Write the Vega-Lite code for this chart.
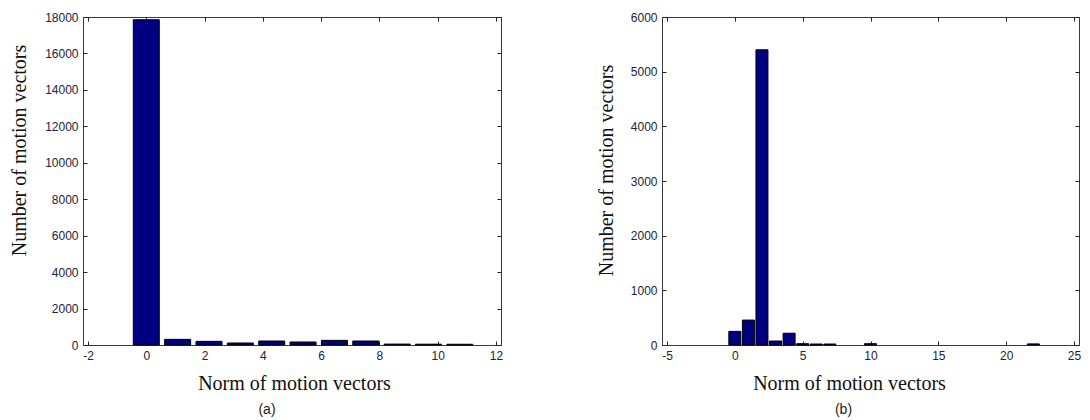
{
  "$schema": "https://vega.github.io/schema/vega-lite/v6.json",
  "background": "white",
  "padding": {"left": 8, "top": 10, "right": 5, "bottom": 5},
  "spacing": 161,
  "bounds": "flush",
  "datasets": {
    "a": [
      {"norm": 0, "count": 17850},
      {"norm": 1.076, "count": 310},
      {"norm": 2.152, "count": 200},
      {"norm": 3.228, "count": 110},
      {"norm": 4.304, "count": 219},
      {"norm": 5.38, "count": 164},
      {"norm": 6.456, "count": 255},
      {"norm": 7.532, "count": 219},
      {"norm": 8.608, "count": 50},
      {"norm": 9.684, "count": 45},
      {"norm": 10.76, "count": 40}
    ],
    "b": [
      {"norm": 0, "count": 249},
      {"norm": 1, "count": 456},
      {"norm": 2, "count": 5400},
      {"norm": 3, "count": 73},
      {"norm": 4, "count": 215},
      {"norm": 5, "count": 24},
      {"norm": 6, "count": 18},
      {"norm": 7, "count": 18},
      {"norm": 10, "count": 24},
      {"norm": 22, "count": 20}
    ]
  },
  "hconcat": [
    {
      "width": 418,
      "height": 328,
      "data": {"name": "a"},
      "title": {"text": "(a)", "orient": "bottom", "anchor": "middle", "frame": "group", "dx": -25, "offset": 10, "font": "Liberation Sans", "fontSize": 14, "fontWeight": "normal", "color": "#222"},
      "layer": [
        {
          "mark": {"type": "bar", "color": "#000080", "stroke": "#000000", "strokeWidth": 1, "size": 26},
          "encoding": {
            "x": {"field": "norm", "type": "quantitative", "scale": {"domain": [-2, 12], "nice": false, "zero": false},
                  "axis": {"orient": "bottom", "values": [-2, 0, 2, 4, 6, 8, 10, 12], "labelExpr": "toString(datum.value)", "title": "Norm of motion vectors", "titleX": 211, "titleY": 38, "titleBaseline": "middle", "titleAlign": "center"}},
            "y": {"field": "count", "type": "quantitative", "scale": {"domain": [0, 18000], "nice": false},
                  "axis": {"orient": "left", "values": [0, 2000, 4000, 6000, 8000, 10000, 12000, 14000, 16000, 18000], "labelExpr": "toString(datum.value)", "title": "Number of motion vectors", "titleX": -64, "titleY": 133, "titleBaseline": "middle", "titleAlign": "center", "titleAngle": -90}}
          }
        },
        {
          "mark": {"type": "bar", "opacity": 0, "size": 26},
          "encoding": {
            "x": {"field": "norm", "type": "quantitative", "axis": {"orient": "top", "values": [-2, 0, 2, 4, 6, 8, 10, 12], "labels": false, "title": null}},
            "y": {"field": "count", "type": "quantitative", "axis": {"orient": "right", "values": [0, 2000, 4000, 6000, 8000, 10000, 12000, 14000, 16000, 18000], "labels": false, "title": null}}
          }
        }
      ],
      "resolve": {"axis": {"x": "independent", "y": "independent"}}
    },
    {
      "width": 417,
      "height": 328,
      "data": {"name": "b"},
      "title": {"text": "(b)", "orient": "bottom", "anchor": "middle", "frame": "group", "dx": -27, "offset": 10, "font": "Liberation Sans", "fontSize": 14, "fontWeight": "normal", "color": "#222"},
      "layer": [
        {
          "mark": {"type": "bar", "color": "#000080", "stroke": "#000000", "strokeWidth": 1, "size": 12},
          "encoding": {
            "x": {"field": "norm", "type": "quantitative", "scale": {"domain": [-5, 25], "nice": false, "zero": false},
                  "axis": {"orient": "bottom", "values": [-5, 0, 5, 10, 15, 20, 25], "labelExpr": "toString(datum.value)", "title": "Norm of motion vectors", "titleX": 187, "titleY": 38, "titleBaseline": "middle", "titleAlign": "center"}},
            "y": {"field": "count", "type": "quantitative", "scale": {"domain": [0, 6000], "nice": false},
                  "axis": {"orient": "left", "values": [0, 1000, 2000, 3000, 4000, 5000, 6000], "labelExpr": "toString(datum.value)", "title": "Number of motion vectors", "titleX": -56, "titleY": 153, "titleBaseline": "middle", "titleAlign": "center", "titleAngle": -90}}
          }
        },
        {
          "mark": {"type": "bar", "opacity": 0, "size": 12},
          "encoding": {
            "x": {"field": "norm", "type": "quantitative", "axis": {"orient": "top", "values": [-5, 0, 5, 10, 15, 20, 25], "labels": false, "title": null}},
            "y": {"field": "count", "type": "quantitative", "axis": {"orient": "right", "values": [0, 1000, 2000, 3000, 4000, 5000, 6000], "labels": false, "title": null}}
          }
        }
      ],
      "resolve": {"axis": {"x": "independent", "y": "independent"}}
    }
  ],
  "config": {
    "view": {"stroke": "#3a3a3a", "strokeWidth": 1},
    "axis": {
      "grid": false,
      "domain": false,
      "ticks": true,
      "tickSize": -4,
      "tickColor": "#222222",
      "tickWidth": 1,
      "labelPadding": 9,
      "labelFont": "Liberation Sans",
      "labelFontSize": 12,
      "labelColor": "#22223a",
      "titleFont": "Liberation Serif",
      "titleFontSize": 20,
      "titleFontWeight": "normal",
      "titleColor": "#111111"
    }
  }
}
